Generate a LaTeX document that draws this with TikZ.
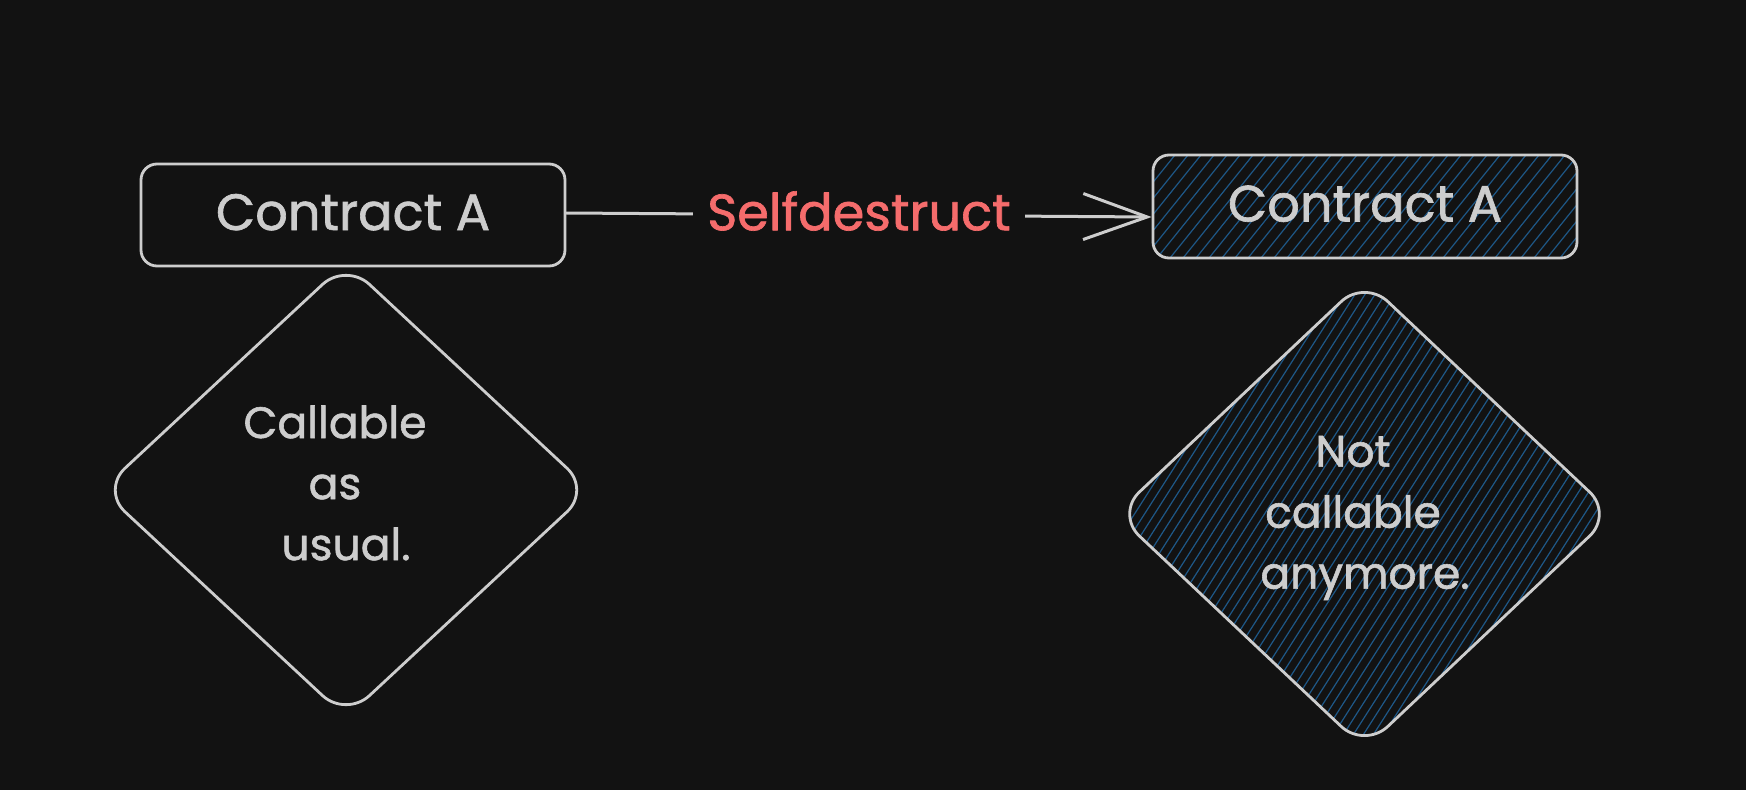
\documentclass[tikz,border=0pt]{standalone}
\usepackage{fontspec}
\setmainfont{Poppins}
\newfontfamily\hand{Poppins}[FakeBold=1.3]
\usetikzlibrary{shapes.geometric,arrows.meta}
\definecolor{bg}{HTML}{121212}
\definecolor{ink}{HTML}{CDCDCD}
\definecolor{hatchc}{HTML}{1E5786}
\definecolor{redlbl}{HTML}{F56C6C}
\begin{document}
\begin{tikzpicture}[x=1pt,y=-1pt,
  txt/.style={text=ink, font=\hand\fontsize{44}{61}\selectfont, align=center, inner sep=0pt},
  box/.style={txt, font=\hand\fontsize{51}{61}\selectfont, draw=ink, line width=2.8pt, rectangle, rounded corners=16pt,
    minimum width=424pt, minimum height=102pt, inner sep=0pt},
  dia/.style={draw=ink, line width=2.8pt, diamond, rounded corners=32pt, inner sep=0pt},
  hline/.style={draw=hatchc, line width=1.2pt},
  boxhatch/.style={path picture={
    \foreach \i in {-45,...,40}
      \draw[hline] ([xshift=\i*13pt]path picture bounding box.south) --
                   ([xshift=\i*13pt+83pt]path picture bounding box.north);}},
  diahatch/.style={path picture={
    \foreach \i in {-80,...,60}
      \draw[hline] ([xshift=\i*10pt]path picture bounding box.south) --
                   ([xshift=\i*10pt+300pt]path picture bounding box.north);}},
  conn/.style={draw=ink, line width=3pt, line cap=round, line join=round,
    -{Straight Barb[length=64pt,width=46pt]}},
  lbl/.style={text=redlbl, font=\hand\fontsize{51}{61}\selectfont, fill=bg, inner xsep=14pt, inner ysep=6pt}
]
\fill[bg] (0,0) rectangle (1746,790);
\useasboundingbox (0,0) rectangle (1746,790);

\node[box] (r1) at (353,215) {\raisebox{6pt}{Contract A}};
\node[box, boxhatch, minimum height=103pt] (r2) at (1365,206.5) {\raisebox{6pt}{Contract A}};

\node[dia, minimum width=490pt, minimum height=456pt] (d1) at (346,490) {};
\node[txt] (d1t) at (335,483) {Callable\\as\\\hspace*{22pt}usual.};
\node[dia, diahatch, minimum width=498pt, minimum height=470pt] (d2) at (1364.5,514) {};
\node[txt] (d2t) at (1353,518) {Not\\callable\\\hspace*{24pt}anymore.};

\draw[conn] ([yshift=2pt]r1.east) -- node[lbl, yshift=4pt] (lab) {Selfdestruct} ([yshift=-10.5pt]r2.west);
\end{tikzpicture}
\end{document}
